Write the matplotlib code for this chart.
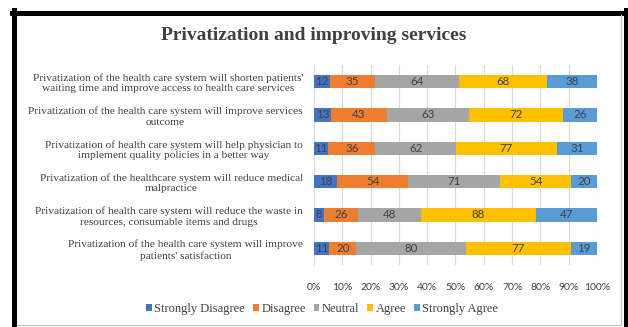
import matplotlib
matplotlib.use("Agg")
import matplotlib.pyplot as plt
import numpy as np
from matplotlib.lines import Line2D

categories = [
    "Privatization of the health care system will shorten patients'\nwaiting time and improve access to health care services",
    "Privatization of the health care system will improve services\noutcome",
    "Privatization of health care system will help physician to\nimplement quality policies in a better way",
    "Privatization of the healthcare system will reduce medical\nmalpractice",
    "Privatization of health care system will reduce the waste in\nresources, consumable items and drugs",
    "Privatization of the health care system will improve\npatients' satisfaction",
]
series_names = ["Strongly Disagree", "Disagree", "Neutral", "Agree", "Strongly Agree"]
strongly_disagree = [12, 13, 11, 18, 8, 11]
disagree = [35, 43, 36, 54, 26, 20]
neutral = [64, 63, 62, 71, 48, 80]
agree = [68, 72, 77, 54, 88, 77]
strongly_agree = [38, 26, 31, 20, 47, 19]
colors = ["#4472C4", "#ED7D31", "#A5A5A5", "#FFC000", "#5B9BD5"]
xtick_labels = ["0%", "10%", "20%", "30%", "40%", "50%", "60%", "70%", "80%", "90%", "100%"]

data = np.array([strongly_disagree, disagree, neutral, agree, strongly_agree], dtype=float)
totals = data.sum(axis=0)
pct = data / totals * 100

fig = plt.figure(figsize=(6.28, 3.27), dpi=100)
ax = fig.add_axes([0.5, 1 - 265 / 327, 0.4506, 200 / 327])

y = np.arange(len(categories))
left = np.zeros(len(categories))
for i, name in enumerate(series_names):
    bars = ax.barh(y, pct[i], left=left, height=0.4, color=colors[i], label=name, zorder=3)
    for j, b in enumerate(bars):
        ax.text(left[j] + pct[i][j] / 2, y[j], f"{int(data[i][j])}", ha="center", va="center",
                fontsize=8.3, color="#404040", family="Lato", zorder=4)
    left += pct[i]

ax.set_ylim(len(categories) - 0.5, -0.5)
ax.set_xlim(0, 100)
ax.set_xticks(np.arange(0, 101, 10))
ax.set_xticklabels(xtick_labels, family="Lato", fontsize=7.5, color="#404040")
ax.set_yticks(y)
ax.set_yticklabels(categories, family="Liberation Serif", fontsize=8.2, color="#404040")
for t in ax.get_yticklabels():
    t.set_multialignment("center")
    t.set_linespacing(1.2)
ax.tick_params(axis="y", length=0, pad=8)
ax.tick_params(axis="x", length=0, pad=13)
ax.grid(axis="x", color="#D9D9D9", linewidth=0.8, zorder=0)
for s in ["top", "right", "bottom"]:
    ax.spines[s].set_visible(False)
ax.spines["left"].set_color("#D9D9D9")

fig.text(0.5, 1 - 36 / 327, "Privatization and improving services", ha="center", va="center",
         family="Liberation Serif", fontweight="bold", fontsize=14, color="#404040")

leg = fig.legend(loc="center", bbox_to_anchor=(0.513, 1 - 309 / 327), ncol=5, frameon=False,
                 prop={"family": "Liberation Serif", "size": 9}, handlelength=0.45, handleheight=0.45,
                 handletextpad=0.2, columnspacing=0.65)
for t in leg.get_texts():
    t.set_color("#404040")

# border
W, H = 628, 327
def fx(x):
    return x / W
def fy(yy):
    return 1 - yy / H
fig.add_artist(Line2D([fx(12), fx(628)], [fy(12.5), fy(12.5)], color="black", linewidth=3.6))
fig.add_artist(Line2D([fx(14.5), fx(14.5)], [fy(10), fy(327)], color="black", linewidth=3.6))
fig.add_artist(Line2D([fx(625.5), fx(625.5)], [fy(10), fy(327)], color="black", linewidth=3.6))
fig.add_artist(Line2D([fx(621), fx(621)], [fy(15), fy(325)], color="#BFBFBF", linewidth=0.8))
fig.add_artist(Line2D([fx(17), fx(621)], [fy(325), fy(325)], color="#BFBFBF", linewidth=0.8))

fig.savefig("out.png", dpi=100)
